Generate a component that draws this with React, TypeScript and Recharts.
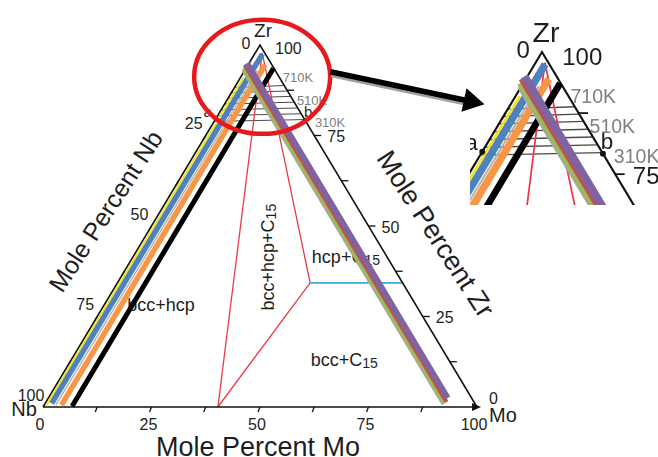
import React from 'react';
import { ScatterChart, Scatter, XAxis, YAxis } from 'recharts';

type T = { mo: number; zr: number };

// ---------- data (ternary compositions, mole percent Mo / Zr; Nb = 100 - Mo - Zr) ----------
const triangleOutline: T[] = [{ mo: 0, zr: 0 }, { mo: 100, zr: 0 }, { mo: 0, zr: 100 }, { mo: 0, zr: 0 }];
const tickValues = [12.5, 25, 37.5, 50, 62.5, 75, 87.5];
const tickLabels = [0, 25, 50, 75, 100];

// composition paths near the Nb-Zr edge
const yellowPath: T[] = [{ mo: 0.5, zr: 0.3 }, { mo: 0.7, zr: 91 }];
const bluePath: T[] = [{ mo: 1.5, zr: 1 }, { mo: 1.8, zr: 97.5 }];
const grayPath: T[] = [{ mo: 2.7, zr: 0.5 }, { mo: 2.9, zr: 93 }];
const orangePath: T[] = [{ mo: 4.0, zr: 0.5 }, { mo: 3.9, zr: 94.5 }];
const blackPath: T[] = [{ mo: 6.6, zr: 0.2 }, { mo: 6.3, zr: 93.6 }];
// composition paths near the Zr-Mo edge
const grayRightPath: T[] = [{ mo: -0.4, zr: 92.8 }, { mo: 91.8, zr: 0.6 }];
const greenPath: T[] = [{ mo: -0.6, zr: 93.6 }, { mo: 92.0, zr: 1.0 }];
const redPath: T[] = [{ mo: -0.8, zr: 94.5 }, { mo: 92.3, zr: 1.4 }];
const purplePath: T[] = [{ mo: -0.5, zr: 95 }, { mo: 92.0, zr: 2.5 }];

// phase boundaries
const boundaryLeft: T[] = [{ mo: 1.6, zr: 97.8 }, { mo: 40.3, zr: 0 }];
const boundaryRight: T[] = [{ mo: 1.6, zr: 97.8 }, { mo: 44.4, zr: 34.3 }, { mo: 40.3, zr: 0 }];
const tieC15: T[] = [{ mo: 44.4, zr: 34.3 }, { mo: 65.7, zr: 34.3 }];

// low temperature tie lines (Zr content at the Zr-Mo edge)
const tieLineZr = [88.8, 87.3, 85.8, 84.2, 82.6, 81.0, 79.4];
const pointA: T = { mo: 0, zr: 79.6 };
const pointB: T = { mo: 20.8, zr: 79.2 };
const tempLabels = ['710K', '510K', '310K'];
const tempLabelAt: T[] = [{ mo: 13.3, zr: 90.9 }, { mo: 19.6, zr: 84.8 }, { mo: 26.8, zr: 78.7 }];

const regionLabels = ['bcc+hcp', 'bcc+hcp+C', 'hcp+C', 'bcc+C'];
const regionAt: T[] = [{ mo: 13.1, zr: 28.2 }, { mo: 31.1, zr: 41.4 }, { mo: 49.1, zr: 41.4 }, { mo: 62.9, zr: 13.0 }];

// annotation (zoom circle and arrow)
const circleAt: T = { mo: 4.9, zr: 91.2 };
const arrowPath: T[] = [{ mo: 19.9, zr: 92.6 }, { mo: 55.6, zr: 84.6 }];

// ---------- layout ----------
const FONT = '"Liberation Sans", Arial, Helvetica, sans-serif';
const PXX = 4.34; // px per x unit in main chart
const PXY = 3.62; // px per y unit in main chart
const cart = (p: T) => ({ x: p.mo + p.zr / 2, y: p.zr });
const off = (p: T, dxPx: number, dyPx: number) => {
  const c = cart(p);
  return { x: c.x + dxPx / PXX, y: c.y - dyPx / PXY };
};
const Empty = () => <g />;

type TO = { dx?: number; dy?: number; size: number; color?: string; rotate?: number; anchor?: string };

const textShape = (content: React.ReactNode, o: TO, k: number, kt: number) => (props: any) => {
  const x = props.cx + (o.dx || 0) * k;
  const y = props.cy + (o.dy || 0) * k;
  return (
    <text
      x={x}
      y={y}
      fontSize={o.size * kt}
      fill={o.color || '#1e1e1e'}
      textAnchor={(o.anchor as any) || 'middle'}
      dominantBaseline="central"
      fontFamily={FONT}
      transform={o.rotate ? `rotate(${o.rotate} ${x} ${y})` : undefined}
    >
      {content}
    </text>
  );
};

function scene(k: number, kt: number, inset: boolean) {
  const els: React.ReactNode[] = [];
  const L = (key: string, pts: { x: number; y: number }[], stroke: string, w: number, extra: any = {}) =>
    els.push(
      <Scatter
        key={key}
        data={pts}
        line={{ stroke, strokeWidth: w * k, strokeLinecap: 'butt', strokeLinejoin: 'miter', ...extra }}
        lineType="joint"
        shape={Empty}
        fill="none"
        isAnimationActive={false}
      />
    );
  const Tx = (key: string, p: { x: number; y: number }, content: React.ReactNode, o: TO) =>
    els.push(<Scatter key={key} data={[p]} shape={textShape(content, o, k, kt)} isAnimationActive={false} />);
  const sub = (s: string) => (
    <>
      {s}
      <tspan fontSize={14 * kt} dy={3 * k}>15</tspan>
    </>
  );

  // region labels (under the lines)
  Tx('rg0', cart(regionAt[0]), regionLabels[0], { size: 18 });
  Tx('rg1', cart(regionAt[1]), sub(regionLabels[1]), { size: 18, rotate: -90 });
  Tx('rg2', cart(regionAt[2]), sub(regionLabels[2]), { size: 18 });
  Tx('rg3', cart(regionAt[3]), sub(regionLabels[3]), { size: 18 });

  // tie lines
  tieLineZr.forEach((z, i) =>
    L('tie' + i, [cart({ mo: 0, zr: z - 0.5 }), cart({ mo: 100 - z, zr: z })], '#4a4a4a', 1)
  );

  // phase boundaries
  L('bl', boundaryLeft.map(cart), '#e8394a', 1.3);
  L('br', boundaryRight.map(cart), '#e8394a', 1.3);
  L('cy', tieC15.map(cart), '#3fa9d9', 1.6);

  // triangle + ticks
  L('tri', triangleOutline.map(cart), '#111', 1.6);
  tickValues.forEach((v) => {
    const b = { mo: v, zr: 0 };
    L('tb' + v, [cart(b), off(b, -2, 5)], '#111', 1.3);
    const l = { mo: 0, zr: 100 - v };
    L('tl' + v, [cart(l), off(l, -3, 5)], '#111', 1.3);
    const r = { mo: 100 - v, zr: v };
    L('tr' + v, [cart(r), off(r, 7, 0)], '#111', 1.3);
  });
  // small arrow at the Mo corner
  els.push(
    <Scatter
      key="moArrow"
      data={[cart({ mo: 100, zr: 0 })]}
      shape={(p: any) => (
        <polygon points={`${p.cx + 4 * k},${p.cy} ${p.cx - 5 * k},${p.cy - 4 * k} ${p.cx - 5 * k},${p.cy + 4 * k}`} fill="#111" />
      )}
      isAnimationActive={false}
    />
  );

  // composition paths
  L('yellow', yellowPath.map(cart), '#f2e51d', 2);
  L('blue', bluePath.map(cart), '#4f81bd', 5.5);
  L('gray', grayPath.map(cart), '#b3b3b3', 1.5);
  L('orange', orangePath.map(cart), '#f79646', 5.5);
  L('black', blackPath.map(cart), '#000', 5);
  L('grayR', grayRightPath.map(cart), '#a6a6a6', 2);
  L('green', greenPath.map(cart), '#9bbb59', 4);
  L('red', redPath.map(cart), '#c0504d', 4);
  L('purple', purplePath.map(cart), '#8064a2', 6);

  // points a, b
  const dot = (p: any) => <circle cx={p.cx} cy={p.cy} r={2.2 * k} fill="#111" />;
  els.push(<Scatter key="pa" data={[cart(pointA)]} shape={dot} isAnimationActive={false} />);
  els.push(<Scatter key="pb" data={[cart(pointB)]} shape={dot} isAnimationActive={false} />);
  Tx('la', cart(pointA), 'a', { size: 15, dx: -8, dy: -7 });
  Tx('lb', cart(pointB), 'b', { size: 15, dx: 3, dy: -9 });

  // temperature labels
  tempLabels.forEach((t, i) => Tx('tk' + i, cart(tempLabelAt[i]), t, { size: 13, color: '#808080' }));

  // axis numbers
  tickLabels.forEach((v) => {
    Tx('nb' + v, cart({ mo: v, zr: 0 }), String(v), { size: 16, dx: -3, dy: 17 });
    Tx('nl' + v, cart({ mo: 0, zr: 100 - v }), String(v), v === 0 ? { size: 16, dx: -14, dy: -2 } : { size: 16, dx: -12, dy: -12 });
    Tx('nr' + v, cart({ mo: 100 - v, zr: v }), String(v), v === 0 ? { size: 16, dx: 12, dy: -9, anchor: 'start' } : v === 100 ? { size: 16, dx: 15, dy: 3, anchor: 'start' } : { size: 16, dx: 13, dy: 1, anchor: 'start' });
  });

  // vertex labels
  Tx('vzr', cart({ mo: 0, zr: 100 }), 'Zr', { size: 19, dx: 3, dy: -15 });
  Tx('vnb', cart({ mo: 0, zr: 0 }), 'Nb', { size: 20, dx: -19, dy: 2 });
  Tx('vmo', cart({ mo: 100, zr: 0 }), 'Mo', { size: 20, dx: 26, dy: 8 });

  if (!inset) {
    // axis titles
    Tx('ttnb', cart({ mo: 0, zr: 50 }), 'Mole Percent Nb', { size: 25, dx: -46, dy: -15, rotate: -57 });
    Tx('ttzr', cart({ mo: 50, zr: 50 }), 'Mole Percent Zr', { size: 27, dx: 67, dy: 8, rotate: 57 });
    Tx('ttmo', cart({ mo: 50, zr: 0 }), 'Mole Percent Mo', { size: 27, dx: -2, dy: 40 });

    // circle + arrow
    els.push(
      <Scatter
        key="circle"
        data={[cart(circleAt)]}
        shape={(p: any) => <ellipse cx={p.cx} cy={p.cy} rx={68} ry={57} fill="none" stroke="#e8191c" strokeWidth={4.5} />}
        isAnimationActive={false}
      />
    );
    L('arrowSh', arrowPath.map(cart), '#a0a0a0', 5, { transform: 'translate(1,3)' });
    L('arrow', arrowPath.map(cart), '#000', 5.5);
    const tip = cart(arrowPath[1]);
    els.push(
      <Scatter
        key="arrowHead"
        data={[tip]}
        shape={(p: any) => (
          <polygon
            points={`${p.cx + 17},${p.cy} ${p.cx - 4},${p.cy - 12} ${p.cx - 4},${p.cy + 12}`}
            fill="#000"
            transform={`rotate(12 ${p.cx} ${p.cy})`}
          />
        )}
        isAnimationActive={false}
      />
    );
  }
  return els;
}

export default function App() {
  const m = { top: 0, right: 0, bottom: 0, left: 0 };
  return (
    <div style={{ position: 'absolute', left: 0, top: 0, width: 658, height: 457, background: '#fff', overflow: 'hidden' }}>
      <ScatterChart width={658} height={457} margin={m}>
        <XAxis type="number" dataKey="x" domain={[-9.908, 141.705]} allowDataOverflow hide />
        <YAxis type="number" dataKey="y" domain={[-13.812, 112.431]} allowDataOverflow hide />
        {scene(1, 1, false)}
      </ScatterChart>
      <div style={{ position: 'absolute', left: 470, top: 20, width: 188, height: 185, filter: 'blur(0.5px)' }}>
        <ScatterChart width={188} height={185} margin={m}>
          <XAxis type="number" dataKey="x" domain={[37.711, 69.798]} allowDataOverflow hide />
          <YAxis type="number" dataKey="y" domain={[68.69, 106.548]} allowDataOverflow hide />
          {scene(1.35, 1.5, true)}
        </ScatterChart>
      </div>
    </div>
  );
}
